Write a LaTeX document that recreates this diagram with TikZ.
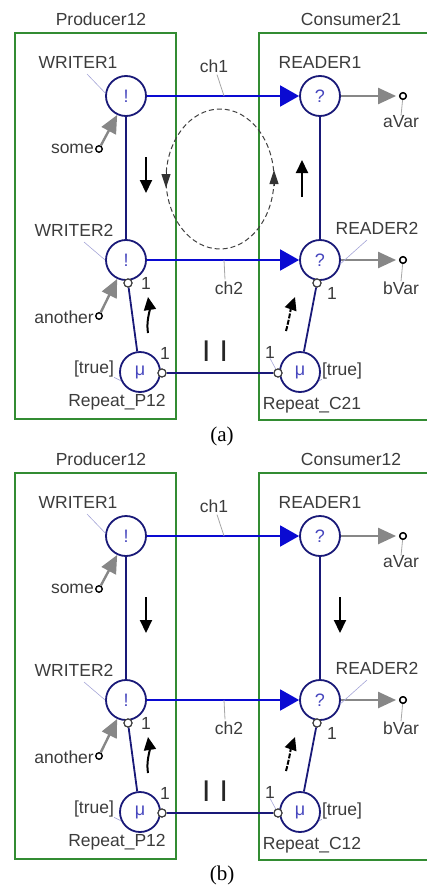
\documentclass[tikz,border=0pt]{standalone}
\usepackage{fontspec}
\setmainfont{Liberation Sans}
\newfontfamily\capfont{Liberation Serif}
\usetikzlibrary{arrows.meta}
\definecolor{boxgreen}{RGB}{50,140,50}
\definecolor{navy}{RGB}{25,25,120}
\definecolor{chblue}{RGB}{10,10,210}
\definecolor{symblue}{RGB}{70,70,190}
\definecolor{txtgray}{RGB}{60,60,60}
\definecolor{arrgray}{RGB}{135,135,135}
\definecolor{leadc}{RGB}{165,165,215}
\tikzset{
 lbl/.style={font=\fontsize{17.5}{19}\selectfont, text=txtgray, inner sep=0pt},
 proc/.style={circle, draw=navy, line width=1.8pt, fill=white, minimum size=40pt, inner sep=0pt, text=symblue, font=\fontsize{18}{19}\selectfont},
 port/.style={circle, draw=txtgray, fill=white, line width=1.1pt, minimum size=8pt, inner sep=0pt},
 varpt/.style={circle, draw=black, line width=1.4pt, fill=white, minimum size=6.5pt, inner sep=0pt},
 container/.style={draw=boxgreen, line width=1.8pt},
 navyline/.style={draw=navy, line width=1.8pt},
 chline/.style={draw=chblue, line width=1.8pt, -{Triangle[length=19pt,width=21pt]}},
 garrow/.style={draw=arrgray, line width=2.4pt, -{Triangle[length=18pt,width=16pt]}},
 leader/.style={draw=leadc, line width=0.6pt},
 tick/.style={draw=black!35, line width=0.8pt},
 flow/.style={draw=black, line width=2pt, -{Triangle[length=13pt,width=12pt]}},
 ellarrow/.style={draw=black!80, line width=1pt, -{Triangle[length=14pt,width=9pt]}},
 caption/.style={font=\capfont\fontsize{21}{22}\selectfont, inner sep=0pt},
}
\newcommand\drawpanel[2]{%
 \draw[container] (15,33) rectangle (176,419);
 \draw[container] (430,33) -- (259,33) -- (259,420) -- (430,420);
 \node[lbl] (prodl) at (101,19) {Producer12};
 \node[lbl] (consl) at (351,19) {#1};
 \node[proc] (w1) at (126,96) {!};
 \node[proc] (w2) at (126,260) {!};
 \node[proc] (r1) at (320,96) {?};
 \node[proc] (r2) at (320,260) {?};
 \node[proc] (rp) at (140,372) {μ};
 \node[proc] (rc) at (300,372) {μ};
 \node[port] (w2p) at (128,283) {};
 \node[port] (r2p) at (317,283) {};
 \node[port] (rpp) at (162,373) {};
 \node[port] (rcp) at (278,373) {};
 \node[varpt] (somep) at (99,149) {};
 \node[varpt] (anotherp) at (99,316) {};
 \node[varpt] (avar) at (403,96) {};
 \node[varpt] (bvar) at (403,260) {};
 \node[lbl, anchor=east] (somel) at (94,149) {some};
 \node[lbl, anchor=east] (anotherl) at (94,317) {another};
 \node[lbl] (avarl) at (401,122) {aVar};
 \node[lbl] (bvarl) at (401,288) {bVar};
 \node[lbl] (w1l) at (78,62) {WRITER1};
 \node[lbl] (w2l) at (74,230) {WRITER2};
 \node[lbl] (r1l) at (320,62) {READER1};
 \node[lbl] (r2l) at (377,228) {READER2};
 \node[lbl] (ch1l) at (214,66) {ch1};
 \node[lbl] (ch2l) at (229,288) {ch2};
 \node[lbl] (w2one) at (146,283) {1};
 \node[lbl] (r2one) at (332,293) {1};
 \node[lbl] (rpone) at (165,353) {1};
 \node[lbl] (rcone) at (270,352) {1};
 \node[lbl] (ptrue) at (94,369) {[true]};
 \node[lbl] (ctrue) at (342,371) {[true]};
 \node[lbl] (rpl) at (117,402) {Repeat\_P12};
 \node[lbl] (rcl) at (312,405) {#2};
 \node[font=\fontsize{30}{30}\selectfont, text=black!85, inner sep=0pt] (par) at (215,351) {I\hspace{9pt}I};
 \coordinate (ch1pt) at (224,96);
 \coordinate (ch2pt) at (224,260);
 \coordinate (w1lt) at (87,74);
 \coordinate (w2lt) at (84,242);
 \coordinate (r2lt) at (367,240);
 % connectors
 \draw[chline] (w1) -- (r1);
 \draw[chline] (w2) -- (r2);
 \draw[navyline] (w1) -- (w2);
 \draw[navyline] (r1) -- (r2);
 \draw[navyline] (w2p) -- (rp);
 \draw[navyline] (r2p) -- (rc);
 \draw[navyline] (rpp) -- (rcp);
 \draw[garrow] (somep) -- (w1.245);
 \draw[garrow] (anotherp) -- (w2.245);
 \draw[garrow, shorten >=3pt] (r1) -- (avar);
 \draw[garrow, shorten >=3pt] (r2) -- (bvar);
 \draw[tick] (avar) -- (avarl.north);
 \draw[tick] (bvar) -- (bvarl.north);
 \draw[tick] (ch1l.south) ++(3,2) -- (ch1pt);
 \draw[tick] (ch2l.north) ++(-4,-2) -- (ch2pt);
 \draw[leader] (w1lt) -- (w1.172);
 \draw[leader] (w2lt) -- (w2.180);
 \draw[leader] (r2lt) -- (r2.350);
 \draw[leader] (rcone.south) -- (rcp.120);
 \draw[leader] (ptrue.south east) -- (rp.205);
 \draw[leader] (ctrue.south west) -- (rc.-25);
 % redraw nodes on top of lines
 \node[port] at (w2p) {};
 \node[port] at (r2p) {};
 \node[port] at (rpp) {};
 \node[port] at (rcp) {};
 \node[varpt] at (avar) {};
 \node[varpt] at (bvar) {};
 % flow arrows common
 \coordinate (fa1) at (146,157); \coordinate (fa2) at (146,193);
 \coordinate (fc1) at (148,333); \coordinate (fc2) at (148,297);
 \coordinate (fd1) at (286,331); \coordinate (fd2) at (295,297);
 \draw[flow] (fa1) -- (fa2);
 \draw[flow] (fc1) .. controls (146,322) and (150,310) .. (fc2);
 \draw[flow, dash pattern=on 5pt off 1.5pt] (fd1) .. controls (289,320) and (291,308) .. (fd2);
}
\begin{document}
\begin{tikzpicture}[x=1pt,y=-1pt]
\useasboundingbox (0,0) rectangle (427,886);
\begin{scope}[name prefix=a-]
 \drawpanel{Consumer21}{Repeat\_C21}
 \coordinate (ec) at (220,179);
 \draw[black!75, line width=1pt, dash pattern=on 5pt off 3pt] (ec) ellipse [x radius=54pt, y radius=70pt];
 \coordinate (el1) at (166,172); \coordinate (el2) at (166,188);
 \coordinate (er1) at (274,186); \coordinate (er2) at (274,170);
 \draw[ellarrow] (el1) -- (el2);
 \draw[ellarrow] (er1) -- (er2);
 \coordinate (fb1) at (302,197); \coordinate (fb2) at (302,160);
 \draw[flow] (fb1) -- (fb2);
 \node[caption] (capa) at (222,436) {(a)};
\end{scope}
\begin{scope}[shift={(0,440)}, name prefix=b-]
 \drawpanel{Consumer12}{Repeat\_C12}
 \coordinate (fb1) at (340,157); \coordinate (fb2) at (340,193);
 \draw[flow] (fb1) -- (fb2);
 \node[caption] (capb) at (222,435) {(b)};
\end{scope}
\end{tikzpicture}
\end{document}
